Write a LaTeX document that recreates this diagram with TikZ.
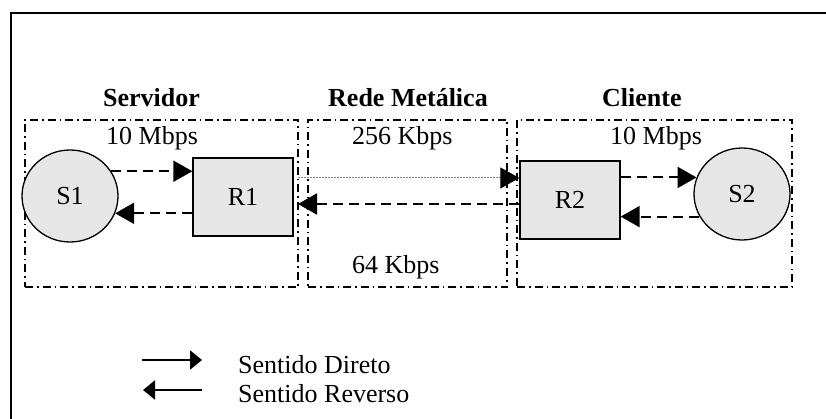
\documentclass[tikz,border=0pt]{standalone}
\usepackage{fontspec}
\setmainfont{Liberation Serif}
\usetikzlibrary{arrows.meta,shapes.geometric,calc}
\definecolor{shapefill}{HTML}{E6E6E6}
\tikzset{
  txt/.style={font=\fontsize{26}{31}\selectfont, inner sep=0pt, anchor=base west},
  ttl/.style={txt, font=\fontsize{26}{31}\selectfont\bfseries},
  zonebox/.style={draw, line width=1.4pt, dash pattern=on 8pt off 4pt on 1.5pt off 4pt, inner sep=0pt},
  hostnode/.style={ellipse, draw, line width=1.3pt, fill=shapefill, inner sep=0pt,
    minimum width=96pt, minimum height=92pt, font=\fontsize{26}{31}\selectfont},
  routernode/.style={rectangle, draw, line width=1.3pt, fill=shapefill, inner sep=0pt,
    minimum width=100pt, minimum height=78pt, font=\fontsize{26}{31}\selectfont},
  bigtip/.style={-{Triangle[length=19pt,width=21pt,color=black]}},
  dasharrow/.style={bigtip, line width=2pt, dash pattern=on 10pt off 6pt},
  dotarrow/.style={bigtip, line width=1pt, draw=gray, dash pattern=on 1.5pt off 1.5pt},
  legarrow/.style={-{Triangle[length=12pt,width=19pt]}, line width=2pt},
}
\begin{document}
\begin{tikzpicture}[x=1pt,y=-1pt]
\useasboundingbox (0,0) rectangle (826,419);
\clip (0,0) rectangle (826,419);
% outer frame (only top and left visible)
\draw[line width=2pt] (11,440) -- (11,13) -- (850,13);

% zone boxes
\node[zonebox, minimum width=273pt, minimum height=167pt] (srv) at (161.5,203.5) {};
\node[zonebox, minimum width=199pt, minimum height=167pt] (net) at (407.5,203.5) {};
\node[zonebox, minimum width=275pt, minimum height=167pt] (cli) at (654.5,203.5) {};

% titles
\node[ttl] (tsrv) at (103,107) {Servidor};
\node[ttl] (tnet) at (328,107) {Rede Metálica};
\node[ttl] (tcli) at (602,107) {Cliente};

% rate labels
\node[txt] (r1) at (106,145) {10 Mbps};
\node[txt] (r2) at (352,145) {256 Kbps};
\node[txt] (r3) at (352,273) {64 Kbps};
\node[txt] (r4) at (610,145) {10 Mbps};

% hosts and routers
\node[hostnode] (S1) at (70,196) {S1};
\node[routernode] (R1) at (243,197) {R1};
\node[routernode] (R2) at (570,200) {R2};
\node[hostnode] (S2) at (742,194) {S2};

% connectors
\draw[dasharrow] (S1.31) -- (S1.31 -| R1.west);
\draw[dasharrow] (S1.-21 -| R1.west) -- (S1.-21);
\coordinate (d1) at (298,178);
\coordinate (d2) at (298,204);
\draw[dotarrow] (d1) -- (d1 -| R2.west);
\draw[dasharrow] (d2 -| R2.west) -- (d2);
\draw[dasharrow] (S2.160 -| R2.east) -- (S2.160);
\draw[dasharrow] (S2.208) -- (S2.208 -| R2.east);

% legend
\coordinate (la) at (142,360);
\coordinate (lb) at (202,360);
\coordinate (lc) at (202,390);
\coordinate (ld) at (143,390);
\draw[legarrow] (la) -- (lb);
\draw[legarrow] (lc) -- (ld);
\node[txt] (leg1) at (238,373) {Sentido Direto};
\node[txt] (leg2) at (238,402) {Sentido Reverso};
\end{tikzpicture}
\end{document}
